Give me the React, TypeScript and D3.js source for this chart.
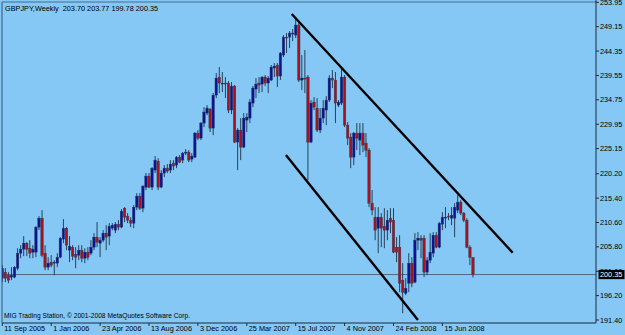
import React from "react";
import * as d3 from "d3";

// ---- DATA (GBPJPY weekly, bar 0 = week of 11 Sep 2005) ----
const symbolTitle = "GBPJPY,Weekly";
const copyright = "MIG Trading Station, © 2001-2008 MetaQuotes Software Corp.";

const dateLabels = [
  "11 Sep 2005", "1 Jan 2006", "23 Apr 2006", "13 Aug 2006", "3 Dec 2006",
  "25 Mar 2007", "15 Jul 2007", "4 Nov 2007", "24 Feb 2008", "15 Jun 2008",
];
const dateLabelBars = [0, 16, 32, 48, 64, 80, 96, 112, 128, 144];

const priceTicks = [
  253.95, 249.15, 244.35, 239.55, 234.75, 229.95, 225.15, 220.2, 215.4,
  210.6, 205.8, 201.0, 196.2, 191.4,
];

const opens = [
  199.63, 200.82, 200.22, 199.83, 199.83, 201.60, 204.56, 205.35, 206.53, 205.54,
  204.76, 204.76, 209.68, 211.45, 204.56, 201.80, 202.79, 202.59, 202.59, 203.77,
  207.32, 209.48, 205.15, 205.74, 204.36, 204.16, 205.15, 203.57, 204.76, 204.56,
  205.74, 207.71, 206.53, 207.12, 208.50, 207.91, 209.48, 209.09, 210.27, 209.68,
  213.42, 211.85, 211.06, 210.47, 213.62, 215.79, 213.42, 217.56, 219.73, 217.56,
  220.91, 222.68, 217.56, 220.32, 221.30, 220.91, 222.29, 221.89, 223.47, 222.88,
  224.26, 224.46, 223.08, 223.47, 228.20, 227.21, 230.17, 232.14, 232.93, 229.18,
  235.68, 239.23, 237.85, 238.05, 238.05, 232.73, 237.46, 226.43, 228.79, 225.44,
  230.76, 231.15, 234.11, 236.87, 238.05, 237.85, 239.23, 238.05, 238.64, 241.00,
  241.59, 239.43, 243.56, 247.11, 247.11, 247.70, 247.50, 249.47, 238.64, 239.03,
  239.23, 226.43, 234.31, 233.12, 228.79, 231.15, 232.73, 234.70, 239.03, 238.64,
  233.71, 234.11, 239.23, 229.77, 227.41, 223.47, 228.20, 226.82, 228.20, 226.23,
  224.85, 214.41, 211.65, 209.48, 211.65, 209.88, 209.09, 211.45, 211.06, 205.74,
  205.74, 199.24, 196.68, 198.65, 202.59, 198.85, 207.12, 207.51, 207.51, 200.82,
  203.18, 204.56, 208.10, 205.74, 210.27, 211.45, 211.85, 211.45, 211.45, 213.03,
  214.61, 212.44, 211.06, 205.74, 203.70,
];
const highs = [
  202.19, 201.60, 200.82, 201.80, 202.00, 205.54, 206.13, 207.91, 206.73, 207.12,
  206.13, 209.88, 211.85, 213.03, 206.13, 203.77, 204.16, 203.18, 204.56, 207.71,
  211.26, 209.68, 207.91, 206.13, 205.74, 206.13, 206.13, 205.54, 205.74, 207.12,
  208.50, 210.67, 207.71, 209.09, 210.07, 210.47, 210.47, 210.67, 211.06, 213.23,
  213.62, 212.44, 211.65, 214.01, 216.38, 216.38, 217.95, 220.32, 220.32, 221.50,
  223.67, 223.27, 220.91, 221.89, 222.09, 222.88, 222.88, 223.67, 223.86, 224.46,
  225.05, 224.85, 224.26, 228.40, 228.79, 230.37, 233.32, 233.71, 233.12, 236.08,
  240.02, 241.20, 240.22, 239.23, 238.44, 238.25, 237.65, 229.18, 231.15, 232.14,
  232.14, 234.90, 237.46, 239.03, 239.23, 239.43, 239.62, 239.43, 241.59, 241.99,
  241.99, 244.16, 247.50, 247.90, 248.29, 248.69, 251.05, 249.87, 243.56, 244.55,
  239.62, 234.70, 235.29, 235.09, 233.12, 234.70, 235.49, 239.62, 240.61, 240.22,
  234.70, 241.00, 239.62, 230.37, 228.20, 228.40, 230.17, 230.17, 230.17, 228.20,
  225.24, 216.97, 213.62, 213.62, 212.44, 213.42, 213.03, 213.42, 213.42, 207.71,
  208.10, 202.59, 199.63, 204.56, 203.77, 208.50, 208.70, 208.10, 208.10, 203.77,
  208.50, 208.70, 208.70, 210.67, 212.64, 213.62, 212.44, 213.62, 214.41, 215.98,
  215.00, 212.64, 211.45, 206.13, 203.77,
];
const lows = [
  198.85, 198.85, 198.65, 199.24, 199.63, 201.21, 203.57, 203.97, 203.97, 203.57,
  203.57, 203.77, 209.09, 203.77, 201.21, 201.21, 201.80, 200.22, 201.80, 203.57,
  206.53, 205.15, 202.79, 203.18, 201.60, 203.18, 202.79, 202.59, 203.18, 204.16,
  205.15, 205.74, 203.77, 206.73, 205.15, 206.13, 209.09, 208.50, 209.09, 209.48,
  210.67, 210.47, 209.68, 209.48, 213.03, 213.03, 212.64, 216.97, 217.36, 216.97,
  220.32, 216.97, 217.36, 219.53, 220.32, 220.32, 220.91, 221.30, 222.29, 222.29,
  223.86, 222.49, 222.49, 223.27, 226.82, 226.82, 229.38, 231.74, 228.40, 227.80,
  235.09, 236.08, 236.28, 235.09, 232.14, 231.94, 226.23, 220.91, 222.88, 225.24,
  228.40, 230.17, 233.32, 235.09, 236.08, 236.28, 237.46, 236.08, 238.44, 239.23,
  237.26, 238.64, 243.17, 243.96, 244.94, 246.32, 246.91, 238.25, 236.67, 236.08,
  218.94, 226.23, 232.73, 228.40, 228.20, 230.17, 229.77, 234.31, 237.06, 230.17,
  233.32, 233.71, 229.38, 225.83, 221.30, 221.89, 224.85, 223.86, 224.46, 223.47,
  213.62, 212.04, 207.12, 204.56, 205.74, 205.54, 207.12, 208.50, 204.56, 202.79,
  196.88, 192.74, 196.29, 196.88, 197.86, 198.65, 205.15, 203.57, 199.83, 200.22,
  202.59, 203.77, 205.54, 205.54, 209.09, 209.48, 211.06, 210.07, 207.71, 212.44,
  212.04, 210.67, 205.54, 202.19, 199.78,
];
const closes = [
  201.60, 199.63, 199.24, 200.22, 201.80, 204.56, 205.35, 206.53, 205.35, 204.56,
  205.35, 209.68, 211.45, 204.16, 201.80, 202.59, 202.19, 202.79, 203.77, 207.51,
  209.48, 206.13, 205.94, 203.97, 203.77, 205.15, 203.57, 204.76, 203.77, 205.74,
  207.71, 206.73, 207.12, 208.50, 207.71, 209.88, 210.07, 210.27, 209.68, 212.83,
  211.65, 211.06, 210.47, 213.62, 215.79, 213.42, 217.76, 219.73, 217.56, 221.30,
  222.88, 217.56, 220.32, 221.30, 220.71, 222.09, 221.70, 223.47, 222.49, 224.26,
  224.46, 222.88, 223.67, 228.20, 227.21, 230.17, 232.34, 233.12, 229.18, 235.68,
  239.03, 238.05, 238.05, 237.85, 232.73, 237.46, 226.43, 228.79, 225.44, 231.15,
  231.35, 234.31, 237.06, 237.85, 237.65, 239.23, 238.05, 239.03, 241.20, 241.40,
  239.43, 243.96, 247.11, 246.91, 247.90, 247.90, 249.47, 238.64, 239.03, 238.84,
  226.43, 234.11, 233.32, 228.79, 231.15, 233.12, 234.70, 239.03, 238.64, 234.11,
  234.31, 239.23, 229.77, 227.21, 223.47, 228.20, 227.21, 228.20, 225.83, 224.85,
  214.41, 213.03, 209.09, 211.65, 209.48, 209.09, 211.06, 210.67, 204.76, 204.76,
  198.65, 196.88, 197.66, 202.59, 198.65, 207.12, 207.51, 207.12, 200.82, 203.18,
  204.76, 208.10, 205.74, 210.47, 211.65, 211.65, 211.65, 212.04, 213.62, 214.61,
  212.44, 211.06, 205.74, 203.77, 200.35,
];

// channel lines: [barStart, priceStart, barEnd, priceEnd]
const channelLines = [
  [94.7, 251.65, 167.0, 204.65],
  [92.8, 223.9, 136.0, 191.4],
];

// ---- LAYOUT ----
const W = 625;
const H = 335;
const PL = 2;
const PR = 596;
const PT = 2;
const PB = 323;
const BG = "#86c8f5";
const BULL = "#0d1196";
const BEAR = "#a8121a";
const WICK = "#26405a";
const FONT = "'Liberation Sans', Arial, sans-serif";
const FS = 7.3;

export default function App() {
  const x = d3.scaleLinear().domain([0, 144]).range([2.3, 442.4]);
  const y = d3.scaleLinear().domain([191.4, 249.15]).range([320, 26.7]);
  const bodyW = 2.5;
  const last = closes[closes.length - 1];
  const line = d3.line<[number, number]>().x((d) => x(d[0])).y((d) => y(d[1]));
  const fmt = d3.format(".2f");

  return (
    <svg
      width={W}
      height={H}
      style={{ position: "absolute", left: 0, top: 0, display: "block" }}
      fontFamily={FONT}
      fontSize={FS}
    >
      <defs>
        <clipPath id="plotclip">
          <rect x={PL} y={PT} width={PR - PL} height={PB - PT} />
        </clipPath>
      </defs>
      <rect x={0} y={0} width={W} height={H} fill={BG} />

      {/* bid line */}
      <line x1={PL} x2={PR} y1={y(last)} y2={y(last)} stroke="#4d6c86" strokeWidth={1} />

      <g clipPath="url(#plotclip)">
        {opens.map((o, i) => {
          const c = closes[i];
          const cx = x(i);
          const top = y(Math.max(o, c));
          const bot = y(Math.min(o, c));
          return (
            <g key={i}>
              <line x1={cx} x2={cx} y1={y(highs[i])} y2={y(lows[i])} stroke={WICK} strokeWidth={1} />
              <rect
                x={cx - bodyW / 2}
                y={top}
                width={bodyW}
                height={Math.max(1, bot - top)}
                fill={c >= o ? BULL : BEAR}
                stroke={WICK}
                strokeWidth={0.4}
              />
            </g>
          );
        })}
        {channelLines.map((l, k) => (
          <path
            key={k}
            d={line([
              [l[0], l[1]],
              [l[2], l[3]],
            ]) as string}
            stroke="#000"
            strokeWidth={2.4}
            fill="none"
          />
        ))}
      </g>

      {/* frame */}
      <line x1={PL} x2={PR} y1={PT} y2={PT} stroke="#4d6c86" strokeWidth={1} />
      <line x1={PL} x2={PL} y1={PT} y2={PB} stroke="#3b556e" strokeWidth={1} />
      <line x1={PL} x2={PR} y1={PB} y2={PB} stroke="#1c2a38" strokeWidth={1} />
      <line x1={PR} x2={PR} y1={0} y2={PB} stroke="#1c2a38" strokeWidth={1} />

      {/* price axis */}
      {priceTicks.map((v, k) => (
        <g key={k}>
          <line x1={PR} x2={PR + 3} y1={y(v)} y2={y(v)} stroke="#1c2a38" />
          <text x={PR + 4} y={y(v)} dy="0.35em" fill="#000">
            {fmt(v)}
          </text>
        </g>
      ))}
      <rect x={PR + 2.5} y={y(last) - 4.6} width={26} height={9.2} fill="#000" />
      <text x={PR + 4} y={y(last)} dy="0.35em" fill="#fff">
        {fmt(last)}
      </text>

      {/* time axis */}
      {dateLabelBars.map((b, k) => (
        <g key={k}>
          <line x1={x(b)} x2={x(b)} y1={PB} y2={PB + 3} stroke="#1c2a38" />
          <text x={x(b) + 2} y={331} fill="#000">
            {dateLabels[k]}
          </text>
        </g>
      ))}

      {/* titles */}
      <text x={5} y={11} fill="#000" style={{ whiteSpace: "pre" }}>
        {`${symbolTitle}  ${fmt(opens[opens.length - 1])} ${fmt(highs[highs.length - 1])} ${fmt(lows[lows.length - 1])} ${fmt(last)}`}
      </text>
      <text x={4} y={318} fill="#000" textLength={186} lengthAdjust="spacingAndGlyphs">
        {copyright}
      </text>
    </svg>
  );
}
